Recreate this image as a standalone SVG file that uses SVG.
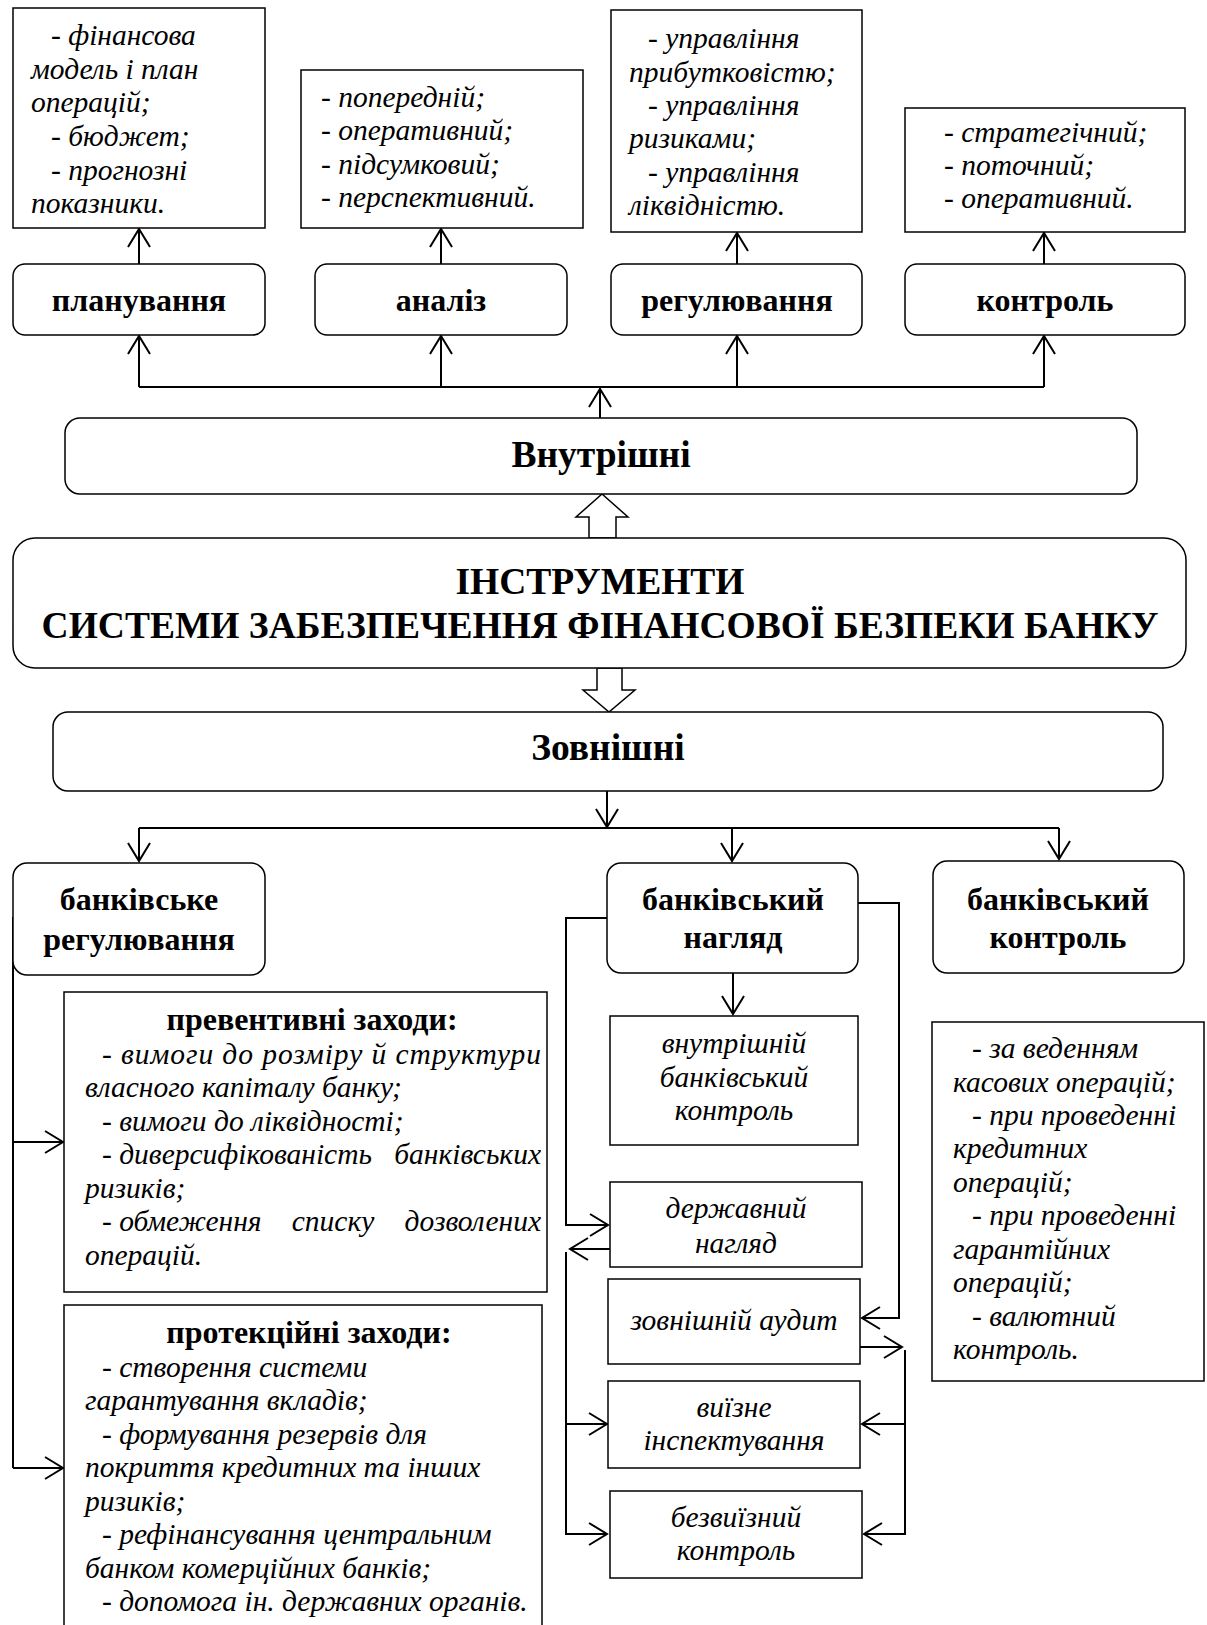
<svg xmlns="http://www.w3.org/2000/svg" width="1207" height="1625" viewBox="0 0 1207 1625">
<defs>
<style>
.bx{fill:#fff;stroke:#000;stroke-width:1.5}
.cn{fill:none;stroke:#000;stroke-width:2}
.it{font-family:"Liberation Serif","Times New Roman",serif;font-style:italic;font-size:29.5px;fill:#000}
.itc{font-family:"Liberation Serif","Times New Roman",serif;font-style:italic;font-size:29.5px;fill:#000;text-anchor:middle}
.lb{font-family:"Liberation Serif","Times New Roman",serif;font-weight:bold;font-size:32px;fill:#000;text-anchor:middle}
.tt{font-family:"Liberation Serif","Times New Roman",serif;font-weight:bold;font-size:37.5px;fill:#000;text-anchor:middle}
</style>
<marker id="ah" viewBox="-20 -13 24 26" refX="0" refY="0" markerWidth="24" markerHeight="26" orient="auto" markerUnits="userSpaceOnUse">
<path d="M-18,-11 L0,0 L-18,11" fill="none" stroke="#000" stroke-width="2"/>
</marker>
</defs>
<rect width="1207" height="1625" fill="#fff"/>

<g id="connectors">
<path class="cn" d="M139,387 L1044,387"/>
<path class="cn" marker-end="url(#ah)" d="M139,387 L139,336"/>
<path class="cn" marker-end="url(#ah)" d="M441,387 L441,336"/>
<path class="cn" marker-end="url(#ah)" d="M737,387 L737,336"/>
<path class="cn" marker-end="url(#ah)" d="M1044,387 L1044,336"/>
<path class="cn" marker-end="url(#ah)" d="M600,418 L600,389"/>
<path class="cn" marker-end="url(#ah)" d="M139,264 L139,229"/>
<path class="cn" marker-end="url(#ah)" d="M441,264 L441,229"/>
<path class="cn" marker-end="url(#ah)" d="M737,264 L737,233"/>
<path class="cn" marker-end="url(#ah)" d="M1044,264 L1044,233"/>
<polygon class="bx" points="589,538 589,517 576,517 602,494 628,517 616,517 616,538"/>
<polygon class="bx" points="597,668 597,690 583,690 609,712 635,690 622,690 622,668"/>
<path class="cn" marker-end="url(#ah)" d="M607,791 L607,827"/>
<path class="cn" d="M139,828 L1059,828"/>
<path class="cn" marker-end="url(#ah)" d="M139,828 L139,861"/>
<path class="cn" marker-end="url(#ah)" d="M732,828 L732,861"/>
<path class="cn" marker-end="url(#ah)" d="M1059,828 L1059,859"/>
<path class="cn" d="M13,917 L13,1468"/>
<path class="cn" marker-end="url(#ah)" d="M13,1142 L63,1142"/>
<path class="cn" marker-end="url(#ah)" d="M13,1468 L63,1468"/>
<path class="cn" marker-end="url(#ah)" d="M733,973 L733,1014"/>
<path class="cn" marker-end="url(#ah)" d="M607,918 L566,918 L566,1225 L608,1225"/>
<path class="cn" marker-end="url(#ah)" d="M610,1249 L570,1249"/>
<path class="cn" marker-end="url(#ah)" d="M566,1252 L566,1534 L607,1534"/>
<path class="cn" marker-end="url(#ah)" d="M566,1424 L607,1424"/>
<path class="cn" marker-end="url(#ah)" d="M858,903 L899,903 L899,1318 L862,1318"/>
<path class="cn" marker-end="url(#ah)" d="M860,1347 L902,1347"/>
<path class="cn" marker-end="url(#ah)" d="M905,1350 L905,1534 L864,1534"/>
<path class="cn" marker-end="url(#ah)" d="M905,1424 L862,1424"/>
</g>

<g id="plan-details">
<rect class="bx" x="13" y="8" width="252" height="220"/>
<text class="it"><tspan x="51" y="45">- фінансова</tspan><tspan x="31" y="79">модель і план</tspan><tspan x="31" y="112">операцій;</tspan><tspan x="51" y="146">- бюджет;</tspan><tspan x="51" y="180">- прогнозні</tspan><tspan x="31" y="213">показники.</tspan></text>
</g>
<g id="analysis-details">
<rect class="bx" x="301" y="70" width="282" height="158"/>
<text class="it"><tspan x="321" y="107">- попередній;</tspan><tspan x="321" y="140">- оперативний;</tspan><tspan x="321" y="174">- підсумковий;</tspan><tspan x="321" y="207">- перспективний.</tspan></text>
</g>
<g id="reg-details">
<rect class="bx" x="611" y="10" width="251" height="222"/>
<text class="it"><tspan x="648" y="48">- управління</tspan><tspan x="629" y="82">прибутковістю;</tspan><tspan x="648" y="115">- управління</tspan><tspan x="629" y="148">ризиками;</tspan><tspan x="648" y="182">- управління</tspan><tspan x="629" y="215">ліквідністю.</tspan></text>
</g>
<g id="control-details">
<rect class="bx" x="905" y="108" width="280" height="124"/>
<text class="it"><tspan x="944" y="142">- стратегічний;</tspan><tspan x="944" y="175">- поточний;</tspan><tspan x="944" y="208">- оперативний.</tspan></text>
</g>

<g id="planning"><rect class="bx" x="13" y="264" width="252" height="71" rx="12"/><text class="lb" x="139" y="311">планування</text></g>
<g id="analysis"><rect class="bx" x="315" y="264" width="252" height="71" rx="12"/><text class="lb" x="441" y="311">аналіз</text></g>
<g id="regulation"><rect class="bx" x="611" y="264" width="251" height="71" rx="12"/><text class="lb" x="737" y="311">регулювання</text></g>
<g id="control"><rect class="bx" x="905" y="264" width="280" height="71" rx="12"/><text class="lb" x="1045" y="311">контроль</text></g>

<g id="internal"><rect class="bx" x="65" y="418" width="1072" height="76" rx="15"/><text class="tt" x="601" y="467">Внутрішні</text></g>
<g id="instruments"><rect class="bx" x="13" y="538" width="1173" height="130" rx="22"/><text class="tt"><tspan x="600" y="594">ІНСТРУМЕНТИ</tspan><tspan x="600" y="638">СИСТЕМИ ЗАБЕЗПЕЧЕННЯ ФІНАНСОВОЇ БЕЗПЕКИ БАНКУ</tspan></text></g>
<g id="external"><rect class="bx" x="53" y="712" width="1110" height="79" rx="15"/><text class="tt" x="608" y="760">Зовнішні</text></g>

<g id="bank-regulation"><rect class="bx" x="13" y="863" width="252" height="112" rx="14"/><text class="lb"><tspan x="139" y="910">банківське</tspan><tspan x="139" y="950">регулювання</tspan></text></g>
<g id="bank-supervision"><rect class="bx" x="607" y="863" width="251" height="110" rx="14"/><text class="lb"><tspan x="733" y="910">банківський</tspan><tspan x="733" y="948">нагляд</tspan></text></g>
<g id="bank-control"><rect class="bx" x="933" y="861" width="251" height="112" rx="14"/><text class="lb"><tspan x="1058" y="910">банківський</tspan><tspan x="1058" y="948">контроль</tspan></text></g>

<g id="preventive">
<rect class="bx" x="64" y="992" width="483" height="300"/>
<text class="lb" x="312" y="1030">превентивні заходи:</text>
<text class="it" x="102" y="1064" textLength="439" lengthAdjust="spacing">- вимоги до розміру й структури</text>
<text class="it"><tspan x="85" y="1097">власного капіталу банку;</tspan><tspan x="102" y="1131">- вимоги до ліквідності;</tspan><tspan x="102" y="1164">- диверсифікованість</tspan><tspan x="85" y="1198">ризиків;</tspan><tspan x="102" y="1231">- обмеження</tspan><tspan x="85" y="1265">операцій.</tspan></text>
<text class="it" x="541" y="1164" text-anchor="end">банківських</text>
<text class="itc" x="333" y="1231">списку</text>
<text class="it" x="541" y="1231" text-anchor="end">дозволених</text>
</g>

<g id="protective">
<rect class="bx" x="64" y="1305" width="478" height="340"/>
<text class="lb" x="309" y="1343">протекційні заходи:</text>
<text class="it"><tspan x="102" y="1377">- створення системи</tspan><tspan x="85" y="1410">гарантування вкладів;</tspan><tspan x="102" y="1444">- формування резервів для</tspan><tspan x="85" y="1477">покриття кредитних та інших</tspan><tspan x="85" y="1511">ризиків;</tspan><tspan x="102" y="1544">- рефінансування центральним</tspan><tspan x="85" y="1578">банком комерційних банків;</tspan><tspan x="102" y="1611">- допомога ін. державних органів.</tspan></text>
</g>

<g id="internal-bank-control"><rect class="bx" x="610" y="1016" width="248" height="129"/><text class="itc"><tspan x="734" y="1053">внутрішній</tspan><tspan x="734" y="1087">банківський</tspan><tspan x="734" y="1120">контроль</tspan></text></g>
<g id="state-supervision"><rect class="bx" x="610" y="1182" width="252" height="85"/><text class="itc"><tspan x="736" y="1218">державний</tspan><tspan x="736" y="1253">нагляд</tspan></text></g>
<g id="external-audit"><rect class="bx" x="608" y="1279" width="252" height="85"/><text class="itc" x="734" y="1330">зовнішній аудит</text></g>
<g id="onsite"><rect class="bx" x="608" y="1381" width="252" height="87"/><text class="itc"><tspan x="734" y="1417">виїзне</tspan><tspan x="734" y="1450">інспектування</tspan></text></g>
<g id="offsite"><rect class="bx" x="610" y="1491" width="252" height="87"/><text class="itc"><tspan x="736" y="1527">безвиїзний</tspan><tspan x="736" y="1560">контроль</tspan></text></g>

<g id="bank-control-details">
<rect class="bx" x="932" y="1022" width="272" height="359"/>
<text class="it"><tspan x="972" y="1058">- за веденням</tspan><tspan x="953" y="1092">касових операцій;</tspan><tspan x="972" y="1125">- при проведенні</tspan><tspan x="953" y="1158">кредитних</tspan><tspan x="953" y="1192">операцій;</tspan><tspan x="972" y="1225">- при проведенні</tspan><tspan x="953" y="1259">гарантійних</tspan><tspan x="953" y="1292">операцій;</tspan><tspan x="972" y="1326">- валютний</tspan><tspan x="953" y="1359">контроль.</tspan></text>
</g>
</svg>
